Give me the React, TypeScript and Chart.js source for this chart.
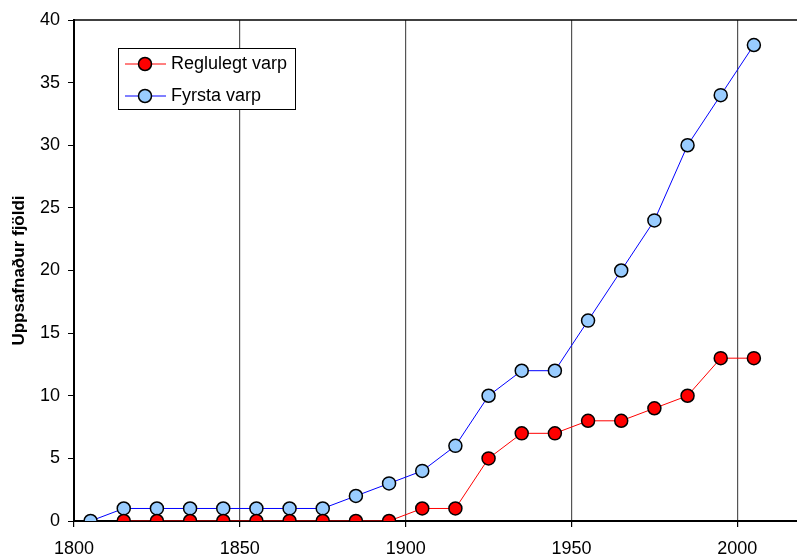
import React, { useEffect, useRef } from "react";
import { Chart, registerables } from "chart.js";

Chart.register(...registerables);

// Decades sampled (mid-decade years)
const yearsFyrsta = [1805, 1815, 1825, 1835, 1845, 1855, 1865, 1875, 1885, 1895, 1905, 1915, 1925, 1935, 1945, 1955, 1965, 1975, 1985, 1995, 2005];
const fyrstaVarp = [0, 1, 1, 1, 1, 1, 1, 1, 2, 3, 4, 6, 10, 12, 12, 16, 20, 24, 30, 34, 38];

const yearsReglulegt = [1815, 1825, 1835, 1845, 1855, 1865, 1875, 1885, 1895, 1905, 1915, 1925, 1935, 1945, 1955, 1965, 1975, 1985, 1995, 2005];
const reglulegtVarp = [0, 0, 0, 0, 0, 0, 0, 0, 0, 1, 1, 5, 7, 7, 8, 8, 9, 10, 13, 13];

const xTicks = [1800, 1850, 1900, 1950, 2000];
const yTicks = [0, 5, 10, 15, 20, 25, 30, 35, 40];

const seriesNames = ["Reglulegt varp", "Fyrsta varp"];
const yTitle = "Uppsafnaður fjöldi";

const FONT = "'Liberation Sans', Arial, sans-serif";
const RED = "#FF0000";
const BLUE = "#0000FF";
const LIGHTBLUE = "#99CCFF";

// Top frame line and the boxed legend inside the plot area
const framePlugin = {
  id: "frameAndLegend",
  afterDraw(chart: any) {
    const { ctx, chartArea } = chart;
    ctx.save();
    ctx.strokeStyle = "#000";
    ctx.lineWidth = 1.5;
    ctx.beginPath();
    ctx.moveTo(chartArea.left, chartArea.top);
    ctx.lineTo(chartArea.right, chartArea.top);
    ctx.stroke();

    // legend box
    const bx = 118.5, by = 48.5, bw = 177, bh = 61;
    ctx.fillStyle = "#fff";
    ctx.fillRect(bx, by, bw, bh);
    ctx.lineWidth = 1;
    ctx.strokeStyle = "#000";
    ctx.strokeRect(bx, by, bw, bh);

    const rows = [
      { y: 64, line: RED, fill: RED, label: seriesNames[0] },
      { y: 96, line: BLUE, fill: LIGHTBLUE, label: seriesNames[1] },
    ];
    rows.forEach((r) => {
      ctx.strokeStyle = r.line;
      ctx.lineWidth = 1;
      ctx.beginPath();
      ctx.moveTo(125, r.y);
      ctx.lineTo(166, r.y);
      ctx.stroke();
      ctx.beginPath();
      ctx.arc(145, r.y, 6.5, 0, Math.PI * 2);
      ctx.fillStyle = r.fill;
      ctx.fill();
      ctx.lineWidth = 1.5;
      ctx.strokeStyle = "#000";
      ctx.stroke();
      ctx.fillStyle = "#000";
      ctx.font = `18px ${FONT}`;
      ctx.textBaseline = "middle";
      ctx.textAlign = "left";
      ctx.fillText(r.label, 171, r.y);
    });
    ctx.restore();
  },
};

export default function App() {
  const ref = useRef<HTMLCanvasElement>(null);

  useEffect(() => {
    document.body.style.margin = "0";
    const canvas = ref.current!;
    const chart = new Chart(canvas, {
      type: "line",
      data: {
        datasets: [
          {
            label: seriesNames[0],
            data: yearsReglulegt.map((x, i) => ({ x, y: reglulegtVarp[i] })),
            borderColor: RED,
            backgroundColor: RED,
            pointBackgroundColor: RED,
            pointBorderColor: "#000",
            pointBorderWidth: 1.5,
            pointRadius: 6.5,
            borderWidth: 1,
          },
          {
            label: seriesNames[1],
            data: yearsFyrsta.map((x, i) => ({ x, y: fyrstaVarp[i] })),
            borderColor: BLUE,
            backgroundColor: LIGHTBLUE,
            pointBackgroundColor: LIGHTBLUE,
            pointBorderColor: "#000",
            pointBorderWidth: 1.5,
            pointRadius: 6.5,
            borderWidth: 1,
          },
        ],
      },
      options: {
        animation: false,
        responsive: false,
        layout: { autoPadding: false, padding: { top: 20, right: 0, left: 0, bottom: 0 } },
        plugins: { legend: { display: false }, tooltip: { enabled: false } },
        scales: {
          x: {
            type: "linear",
            min: 1800,
            max: 2018,
            afterBuildTicks: (s: any) => {
              s.ticks = xTicks.map((v) => ({ value: v }));
            },
            afterFit: (s: any) => {
              s.height = 37;
              s.paddingRight = 0;
              s.paddingLeft = 0;
            },
            ticks: {
              color: "#000",
              font: { family: FONT, size: 18 },
              padding: 11,
              maxRotation: 0,
              autoSkip: false,
              callback: (v: any) => String(v),
            },
            grid: {
              color: "#555",
              lineWidth: 1.2,
              tickColor: "#000",
              tickLength: 6,
            },
            border: { color: "#000", width: 2 },
          },
          y: {
            min: 0,
            max: 40,
            afterBuildTicks: (s: any) => {
              s.ticks = yTicks.map((v) => ({ value: v }));
            },
            afterFit: (s: any) => {
              s.width = 74;
            },
            ticks: {
              color: "#000",
              font: { family: FONT, size: 18 },
              padding: 8,
            },
            grid: {
              drawOnChartArea: false,
              tickColor: "#000",
              tickLength: 6,
            },
            border: { color: "#000", width: 2 },
            title: {
              display: true,
              text: yTitle,
              color: "#000",
              font: { family: FONT, size: 17, weight: "bold" },
              padding: { top: 9, bottom: 0 },
            },
          },
        },
      },
      plugins: [framePlugin],
    });
    return () => chart.destroy();
  }, []);

  return <canvas ref={ref} width={797} height={558} style={{ display: "block" }} />;
}
